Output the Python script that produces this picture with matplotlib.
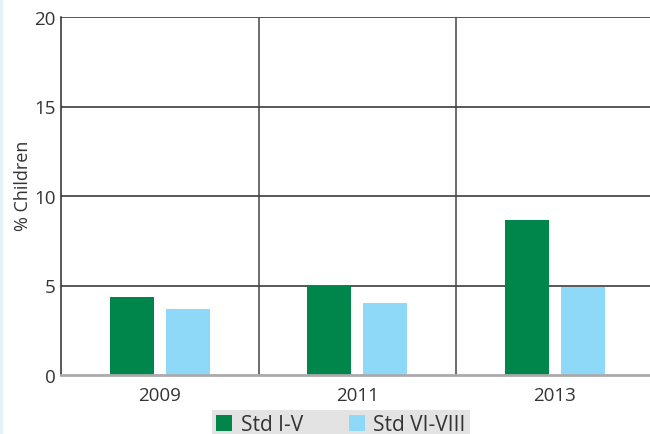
import numpy as np
import matplotlib.pyplot as plt
from matplotlib.patches import Rectangle

plt.rcParams['font.family'] = ['Open Sans', 'DejaVu Sans']

years = ['2009', '2011', '2013']
std_1_5 = [4.35, 5.0, 8.65]
std_6_8 = [3.68, 4.0, 4.9]
series_names = ['Std I-V', 'Std VI-VIII']
green = '#00854a'
blue = '#8ed8f8'
txt = '#333333'

fig = plt.figure(figsize=(6.5, 4.35), dpi=100)
ax = fig.add_axes([61 / 650, 59 / 435, 1 - 61 / 650, 358 / 435])

x = np.arange(len(years))
w = 0.223
off = 0.142
ax.bar(x - off, std_1_5, w, color=green, label=series_names[0], zorder=3)
ax.bar(x + off, std_6_8, w, color=blue, label=series_names[1], zorder=3)

ax.set_ylim(0, 20)
ax.set_xlim(-0.5, -0.5 + 589 / 197.5)
ax.set_yticks([0, 5, 10, 15, 20])
ax.set_xticks(x)
ax.set_xticklabels(years)
ax.tick_params(axis='both', length=0, labelsize=13.5, colors=txt)
ax.tick_params(axis='x', pad=8)
ax.tick_params(axis='y', pad=4)

for yv in [5, 10, 15, 20]:
    ax.axhline(yv, color='#2a2a2a', lw=1.1, zorder=2)
for xv in [0.5, 1.5]:
    ax.axvline(xv, color='#444444', lw=1.1, zorder=2)

for s in ['top', 'right']:
    ax.spines[s].set_visible(False)
ax.spines['left'].set_color('#2a2a2a')
ax.spines['left'].set_linewidth(1.1)
ax.spines['bottom'].set_color('#aaaaaa')
ax.spines['bottom'].set_linewidth(2)
ax.spines['bottom'].set_zorder(4)

ax.set_ylabel('% Children', fontsize=13, color=txt)
ax.yaxis.set_label_coords(-0.05, 0.53)

leg = fig.legend(loc='lower left', bbox_to_anchor=(212 / 650, -0.012), ncol=2,
                 fontsize=15, frameon=True, fancybox=False, borderpad=0.2,
                 handlelength=0.77, handleheight=0.77, handletextpad=0.4,
                 columnspacing=2.2, borderaxespad=0)
leg.get_frame().set_facecolor('#dcdcdc')
leg.get_frame().set_edgecolor('none')
for t in leg.get_texts():
    t.set_color(txt)

fig.patches.append(Rectangle((0, 0), 2 / 650, 1, transform=fig.transFigure,
                             color='#e3f2f2', zorder=0))

fig.savefig('out.png', dpi=100)
